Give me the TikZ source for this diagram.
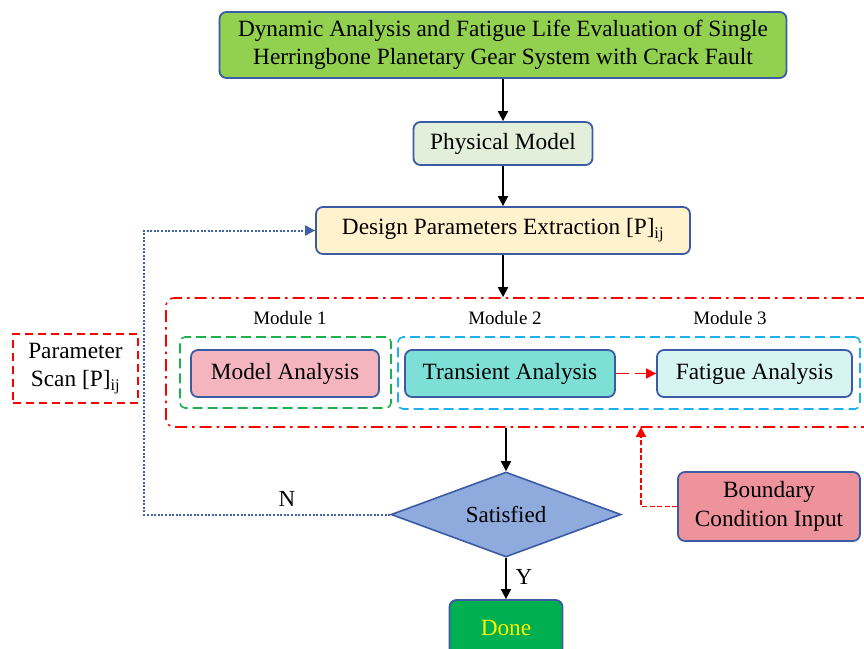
\documentclass[tikz,border=0pt]{standalone}
\usepackage{fontspec}
\setmainfont{Liberation Serif}
\usetikzlibrary{shapes.geometric,arrows.meta,calc}
\definecolor{bordblue}{HTML}{3B5BA5}
\definecolor{titlegreen}{HTML}{92D050}
\definecolor{physfill}{HTML}{E2EFDA}
\definecolor{desfill}{HTML}{FFF2CC}
\definecolor{modfill}{HTML}{F4B5BE}
\definecolor{transfill}{HTML}{7EDFD7}
\definecolor{fatfill}{HTML}{D6F5F2}
\definecolor{diafill}{HTML}{8FAADC}
\definecolor{donefill}{HTML}{00B050}
\definecolor{bcfill}{HTML}{EE929B}
\definecolor{cyanline}{HTML}{1CB0EC}
\definecolor{greenline}{HTML}{1DB04E}
\definecolor{dotblue}{HTML}{4060A8}
\begin{document}
\begin{tikzpicture}[x=1pt,y=-1pt,
  box/.style={draw=bordblue, line width=1.8pt, rounded corners=7pt, inner sep=0pt, align=center, font=\fontsize{23.3}{28}\selectfont},
  arr/.style={-{Triangle[length=10pt,width=10pt]}, line width=1.8pt, black},
  modlabel/.style={font=\fontsize{19}{22}\selectfont, inner sep=0pt},
  lbl/.style={font=\fontsize{23}{26}\selectfont, inner sep=0pt}]
\useasboundingbox (0,0) rectangle (864,648);
\clip (0,0) rectangle (864,648);
% boxes
\node[box, fill=titlegreen, minimum width=567pt, minimum height=66pt] (title) at (503,45)
  {Dynamic Analysis and Fatigue Life Evaluation of Single\\Herringbone Planetary Gear System with Crack Fault};
\node[box, fill=physfill, minimum width=179pt, minimum height=43pt] (phys) at (503,143.5) {Physical Model};
\node[box, fill=desfill, minimum width=374pt, minimum height=47pt] (design) at (503,230.5) {Design Parameters Extraction [P]\textsubscript{ij}};
% module frame
\node[draw=red, line width=1.6pt, rounded corners=8pt, dash pattern=on 12pt off 5pt on 2.5pt off 5pt,
  minimum width=710pt, minimum height=129pt, inner sep=0pt] (mod) at (521,362.5) {};
\node[modlabel] (m1) at (290,318) {Module 1};
\node[modlabel] (m2) at (505,318) {Module 2};
\node[modlabel] (m3) at (730,318) {Module 3};
\node[draw=greenline, line width=1.6pt, rounded corners=5pt, dash pattern=on 10pt off 5pt,
  minimum width=211pt, minimum height=71pt, inner sep=0pt] (g1) at (285.5,372.5) {};
\node[draw=cyanline, line width=1.6pt, rounded corners=5pt, dash pattern=on 10pt off 5pt,
  minimum width=462pt, minimum height=72pt, inner sep=0pt] (g2) at (629,373) {};
\node[box, fill=modfill, minimum width=188pt, minimum height=47pt] (ma) at (285,373.5) {Model Analysis};
\node[box, fill=transfill, minimum width=210pt, minimum height=47pt] (ta) at (510,373.5) {Transient Analysis};
\node[box, fill=fatfill, minimum width=195pt, minimum height=47pt] (fa) at (754.5,373.5) {Fatigue Analysis};
% decision
\node[draw=bordblue, line width=1.6pt, fill=diafill, diamond, aspect=2.7, inner sep=0pt,
  minimum width=230pt, minimum height=85pt, font=\fontsize{23}{26}\selectfont] (dia) at (506,514.5) {Satisfied};
\node[box, fill=donefill, minimum width=113pt, minimum height=60pt, text=yellow] (done) at (506,630) {\raisebox{4pt}{Done}};
% side boxes
\node[draw=red, line width=2pt, dash pattern=on 8pt off 5pt, minimum width=125pt, minimum height=69pt,
  inner sep=0pt, align=center, font=\fontsize{23.3}{28}\selectfont] (ps) at (75.5,368.5) {Parameter\\Scan [P]\textsubscript{ij}};
\node[box, fill=bcfill, minimum width=182pt, minimum height=69pt, font=\fontsize{23.3}{29}\selectfont] (bc) at (769,506.5) {Boundary\\Condition Input};
% connectors
\draw[arr] (title.south) -- (phys.north);
\draw[arr] (phys.south) -- (design.north);
\draw[arr] (design.south) -- (design.south |- mod.north);
\draw[arr] (dia.north |- mod.south) -- (dia.north);
\draw[arr] (dia.south) -- (done.north);
\draw[red, line width=1.6pt, dash pattern=on 13pt off 6pt, -{Triangle[length=10pt,width=10pt]}] (ta.east) -- (fa.west);
\coordinate (bcend) at (641,427);
\draw[red, line width=1.5pt, dash pattern=on 5pt off 2.5pt, -{Triangle[length=10pt,width=10pt]}] (bc.west) -| (bcend);
\coordinate (loop) at (144,515);
\draw[dotblue, line width=2pt, dash pattern=on 2pt off 1.6pt, -{Triangle[length=10pt,width=10pt]}] (dia.west) -- (dia.west -| loop) |- (design.west);
\node[lbl] (nlab) at (287,499) {N};
\node[lbl] (ylab) at (524,577) {Y};
\end{tikzpicture}
\end{document}
